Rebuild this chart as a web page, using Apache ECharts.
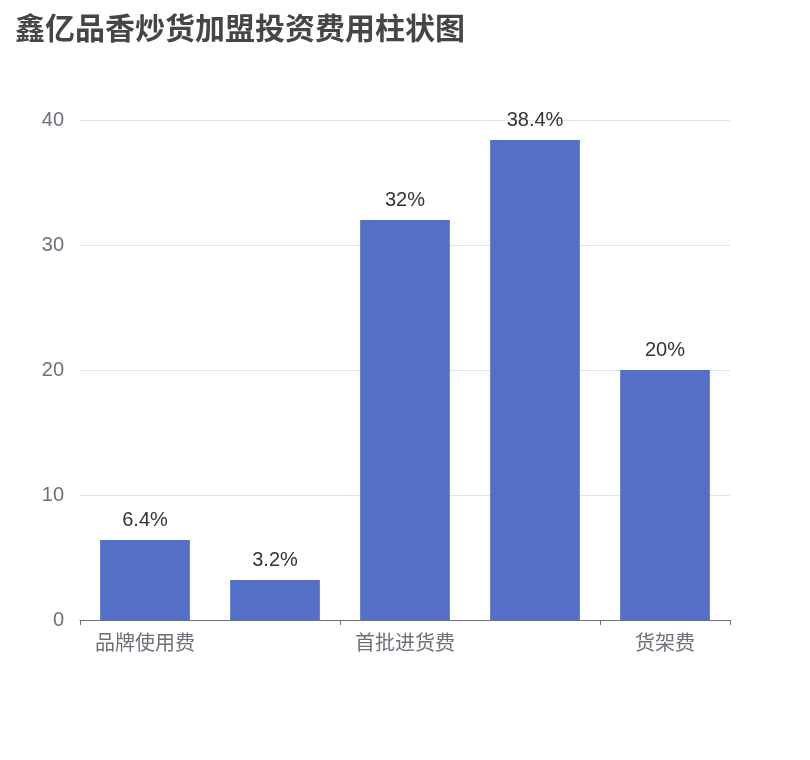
<!DOCTYPE html>
<html>
<head>
<meta charset="utf-8">
<script src="https://cdn.jsdelivr.net/npm/echarts@6/dist/echarts.min.js"></script>
<style>
  html, body { margin: 0; padding: 0; background: #fff; }
  #main { width: 810px; height: 760px; }
</style>
</head>
<body>
<div id="main"></div>
<script>
const categories = ['品牌使用费', '加盟费', '首批进货费', '装修费', '货架费']
const values = [6.4, 3.2, 32, 38.4, 20]
const yTicks = { min: 0, max: 40, interval: 10 }

const chart = echarts.init(document.getElementById('main'))
chart.setOption({
  animation: false,
  title: {
    text: '鑫亿品香炒货加盟投资费用柱状图',
    left: 10,
    top: 8,
    textStyle: { fontSize: 30, fontWeight: 'bold', color: '#464646', fontFamily: 'Noto Sans CJK SC' },
  },
  grid: { left: 80, right: 80, top: 120, bottom: 140 },
  xAxis: {
    type: 'category',
    data: categories,
    axisTick: { show: true, interval: 1 },
    axisLabel: { interval: 1, fontSize: 20, color: '#6e7079', margin: 12, fontFamily: 'Noto Sans CJK SC' },
    axisLine: { lineStyle: { color: '#6e7079' } },
  },
  yAxis: {
    type: 'value',
    min: yTicks.min,
    max: yTicks.max,
    interval: yTicks.interval,
    axisLabel: { fontSize: 20, color: '#6e7079', margin: 16 },
    splitLine: { lineStyle: { color: '#e0e6f1' } },
  },
  series: [{
    type: 'bar',
    data: values,
    barWidth: '69%',
    itemStyle: { color: '#5470c6' },
    label: {
      show: true,
      position: 'top',
      fontSize: 20,
      color: '#333',
      distance: 10,
      formatter: (p) => p.value + '%',
    },
  }],
})
</script>
</body>
</html>
